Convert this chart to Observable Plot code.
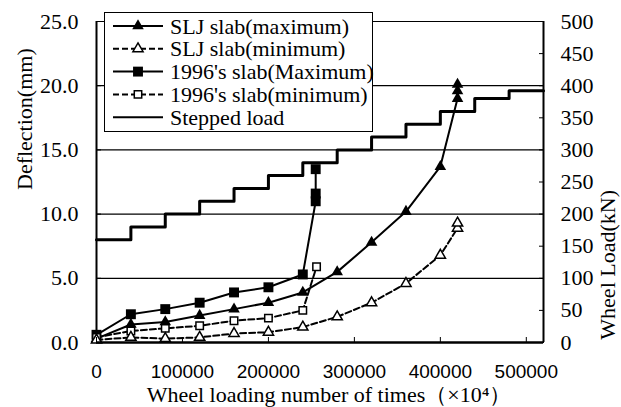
<!DOCTYPE html>
<html><head><meta charset="utf-8">
<script src="https://cdn.jsdelivr.net/npm/d3@7"></script>
<script src="https://cdn.jsdelivr.net/npm/@observablehq/plot@0.6"></script>
<style>
body{margin:0;background:#fff;}
#wrap{position:relative;width:621px;height:407px;}
#legend{position:absolute;left:104px;top:12px;}
</style></head><body><div id="wrap"></div>
<script>
// ---- data ----
const xTicks = [0, 100000, 200000, 300000, 400000, 500000];
const defTicks = [0, 5, 10, 15, 20, 25];
const loadTicks = [0, 50, 100, 150, 200, 250, 300, 350, 400, 450, 500];
const LOAD_PER_MM = 20; // right axis 0-500 kN vs left axis 0-25 mm

const sljMaxX = [0, 40000, 80000, 120000, 160000, 200000, 240000, 280000, 320000, 360000, 400000, 420000, 420000, 420000];
const sljMaxY = [0.3, 1.4, 1.6, 2.1, 2.6, 3.1, 3.9, 5.5, 7.8, 10.2, 13.7, 19.0, 19.6, 20.1];

const sljMinX = [0, 40000, 80000, 120000, 160000, 200000, 240000, 280000, 320000, 360000, 400000, 420000, 420000];
const sljMinY = [0.2, 0.4, 0.3, 0.4, 0.7, 0.8, 1.2, 2.0, 3.1, 4.6, 6.8, 8.9, 9.3];

const oldMaxX = [0, 40000, 80000, 120000, 160000, 200000, 240000, 255000, 255000, 255000];
const oldMaxY = [0.6, 2.2, 2.6, 3.1, 3.9, 4.3, 5.3, 11.0, 11.6, 13.5];

const oldMinX = [0, 40000, 80000, 120000, 160000, 200000, 240000, 256000];
const oldMinY = [0.4, 0.9, 1.1, 1.3, 1.7, 1.9, 2.5, 5.9];

const stepX = [0, 40000, 80000, 120000, 160000, 200000, 240000, 280000, 320000, 360000, 400000, 440000, 480000, 520000];
const stepKN = [160, 180, 200, 220, 240, 260, 280, 300, 320, 340, 360, 380, 392, 392];

const seriesNames = ["SLJ slab(maximum)", "SLJ slab(minimum)", "1996's slab(Maximum)", "1996's slab(minimum)", "Stepped load"];
const yTitle = "Deflection(mm)";
const y2Title = "Wheel Load(kN)";
const xTitle = "Wheel loading number of times（×10⁴）";

// ---- tables ----
const zip = (xs, ys) => xs.map((x, i) => ({x, y: ys[i]}));
const sljMax = zip(sljMaxX, sljMaxY);
const sljMin = zip(sljMinX, sljMinY);
const oldMax = zip(oldMaxX, oldMaxY);
const oldMin = zip(oldMinX, oldMinY);
const steps = stepX.map((x, i) => ({x, kn: stepKN[i]}));

const serif = '"Times New Roman","Liberation Serif","DejaVu Serif",serif';
const sans = '"Liberation Sans",Arial,sans-serif';

const chart = Plot.plot({
  width: 621, height: 407,
  marginTop: 21, marginBottom: 65, marginLeft: 96, marginRight: 78,
  style: {fontFamily: serif, fontSize: "22px", background: "white", color: "black", overflow: "visible"},
  x: {domain: [0, 520000]},
  y: {domain: [0, 25]},
  marks: [
    Plot.ruleY(defTicks.slice(1), {stroke: "#000", strokeWidth: 1.2}),
    Plot.ruleX([0], {stroke: "#000", strokeWidth: 2}),
    Plot.ruleX([520000], {stroke: "#000", strokeWidth: 2}),
    Plot.line(steps, {x: "x", y: d => d.kn / LOAD_PER_MM, curve: "step-after", stroke: "#000", strokeWidth: 3}),
    Plot.line(sljMin, {x: "x", y: "y", stroke: "#000", strokeWidth: 2, strokeDasharray: "6,3"}),
    Plot.line(oldMin, {x: "x", y: "y", stroke: "#000", strokeWidth: 2, strokeDasharray: "6,3"}),
    Plot.line(sljMax, {x: "x", y: "y", stroke: "#000", strokeWidth: 2}),
    Plot.line(oldMax, {x: "x", y: "y", stroke: "#000", strokeWidth: 2}),
    Plot.dot(oldMax, {x: "x", y: "y", symbol: "square", r: 5.6, fill: "#000", stroke: "none"}),
    Plot.dot(sljMax, {x: "x", y: "y", symbol: "triangle", r: 4.3, fill: "#000", stroke: "none"}),
    Plot.dot(oldMin, {x: "x", y: "y", symbol: "square", r: 4.2, fill: "#fff", stroke: "#000", strokeWidth: 1.5}),
    Plot.dot(sljMin, {x: "x", y: "y", symbol: "triangle", r: 3.8, fill: "#fff", stroke: "#000", strokeWidth: 1.5}),
    Plot.ruleY([0], {stroke: "#000", strokeWidth: 2.5}),
    Plot.axisY(defTicks, {anchor: "left", tickSize: -5, tickPadding: 23, tickFormat: d => d.toFixed(1), label: null, fontSize: 22, fontFamily: serif}),
    Plot.axisY(loadTicks.map(v => v / LOAD_PER_MM), {anchor: "right", tickSize: -5, tickPadding: 22, tickFormat: d => String(Math.round(d * LOAD_PER_MM)), label: null, fontSize: 22, fontFamily: serif}),
    Plot.axisX(xTicks, {anchor: "bottom", tickSize: -5, tickPadding: 27, tickFormat: d => String(d), label: null, fontFamily: sans, fontSize: 19}),
    Plot.text([yTitle], {text: d => d, frameAnchor: "left", dx: -72, dy: 8, rotate: -90, lineAnchor: "middle", fontSize: 22, fontFamily: serif}),
    Plot.text([y2Title], {text: d => d, frameAnchor: "right", dx: 64, dy: 8, rotate: -90, lineAnchor: "middle", fontSize: 22, fontFamily: serif}),
    Plot.text([xTitle], {text: d => d, frameAnchor: "bottom", dx: 9, dy: 52, lineAnchor: "middle", fontSize: 22, fontFamily: serif})
  ]
});
document.getElementById("wrap").appendChild(chart);

// ---- legend (HTML-positioned SVG overlay) ----
const lg = d3.select("#wrap").append("svg").attr("id", "legend")
  .attr("width", 270).attr("height", 121);
lg.append("rect").attr("x", 0.5).attr("y", 0.5).attr("width", 268).attr("height", 119)
  .attr("fill", "#fff").attr("stroke", "#000").attr("stroke-width", 1);
const styles = [
  {dash: null, sym: d3.symbolTriangle, size: 58, fill: "#000"},
  {dash: "6,3", sym: d3.symbolTriangle, size: 45, fill: "#fff"},
  {dash: null, sym: d3.symbolSquare, size: 98, fill: "#000"},
  {dash: "6,3", sym: d3.symbolSquare, size: 55, fill: "#fff"},
  {dash: null, sym: null}
];
seriesNames.forEach((name, i) => {
  const cy = 14 + i * 22.8;
  const s = styles[i];
  lg.append("line").attr("x1", 9).attr("x2", 59).attr("y1", cy).attr("y2", cy)
    .attr("stroke", "#000").attr("stroke-width", 2).attr("stroke-dasharray", s.dash);
  if (s.sym) {
    lg.append("path").attr("d", d3.symbol(s.sym, s.size)()).attr("transform", `translate(34,${cy})`)
      .attr("fill", s.fill).attr("stroke", s.fill === "#fff" ? "#000" : "none").attr("stroke-width", 1.5);
  }
  lg.append("text").attr("x", 66).attr("y", cy + 7.5).text(name)
    .attr("font-family", serif).attr("font-size", 22).attr("fill", "#000");
});
</script></body></html>
